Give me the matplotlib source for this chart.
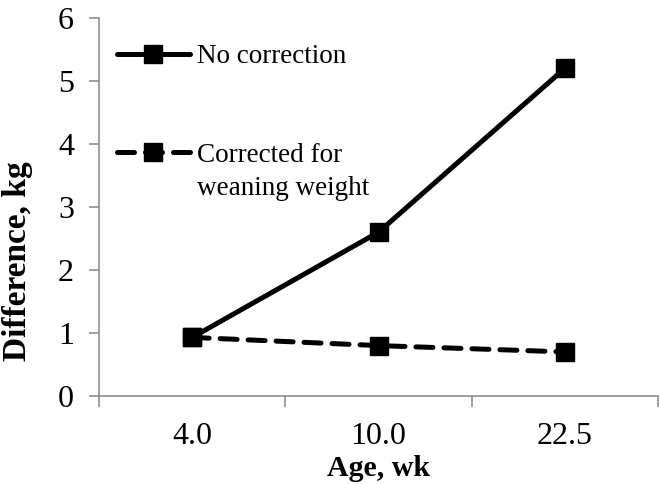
import matplotlib
matplotlib.use("Agg")
import matplotlib.pyplot as plt
from matplotlib.ticker import FixedLocator, NullFormatter, FixedFormatter

plt.rcParams['font.family'] = ['Liberation Serif', 'DejaVu Serif']

categories = ["4.0", "10.0", "22.5"]
no_correction = [0.93, 2.6, 5.2]
corrected = [0.93, 0.8, 0.7]
series_labels = ["No correction", "Corrected for", "weaning weight"]
y_ticks = [0, 1, 2, 3, 4, 5, 6]

gray = "#868686"

fig = plt.figure(figsize=(6.6, 4.84), dpi=100)
ax = fig.add_axes([99/660, 1 - 396/484, 559/660, 378/484])

x = list(range(len(categories)))
l1, = ax.plot(x, no_correction, color="black", lw=3.6, marker="s", ms=13,
              solid_capstyle="round", solid_joinstyle="round", zorder=3)
l2, = ax.plot(x, corrected, color="black", lw=3.6, marker="s", ms=13,
              linestyle=(0, (3.4, 2.2)), dash_capstyle="round", zorder=4)

ax.set_xlim(-0.5, len(categories) - 0.5)
ax.set_ylim(0, 6)
ax.set_yticks(y_ticks)
ax.set_yticklabels([str(v) for v in y_ticks])

# category boundaries as major ticks, labels at centers as minor ticks
ax.xaxis.set_major_locator(FixedLocator([i - 0.5 for i in range(len(categories) + 1)]))
ax.xaxis.set_major_formatter(NullFormatter())
ax.xaxis.set_minor_locator(FixedLocator(x))
ax.xaxis.set_minor_formatter(FixedFormatter(categories))
ax.tick_params(axis="x", which="major", length=8, width=1.1, color=gray, direction="out")
ax.tick_params(axis="x", which="minor", length=0, pad=19, labelsize=23)
ax.tick_params(axis="y", which="major", length=7, width=1.1, color=gray, direction="out",
               pad=11, labelsize=23)

for s in ["top", "right"]:
    ax.spines[s].set_visible(False)
for s in ["left", "bottom"]:
    ax.spines[s].set_color(gray)
    ax.spines[s].set_linewidth(1.1)

ax.set_xlabel("Age, wk", fontsize=21.5, fontweight="bold", labelpad=0)
ax.set_ylabel("Difference, kg", fontsize=24, fontweight="bold")
ax.xaxis.set_label_coords(0.5, -0.155)
ax.yaxis.set_label_coords(-0.118, 0.357)

leg = ax.legend([l1, l2], series_labels[:2], loc="upper left",
                bbox_to_anchor=(0.032, 0.93), frameon=False, fontsize=19.5,
                handlelength=2.7, handletextpad=0.27, labelspacing=2.7,
                borderpad=0, borderaxespad=0)
ax.annotate(series_labels[2], xy=(0, 0), xycoords=leg.get_texts()[1],
            xytext=(0, -6), textcoords="offset points", va="top", ha="left",
            fontsize=19.5, zorder=10)

fig.savefig("out.png", dpi=100)
